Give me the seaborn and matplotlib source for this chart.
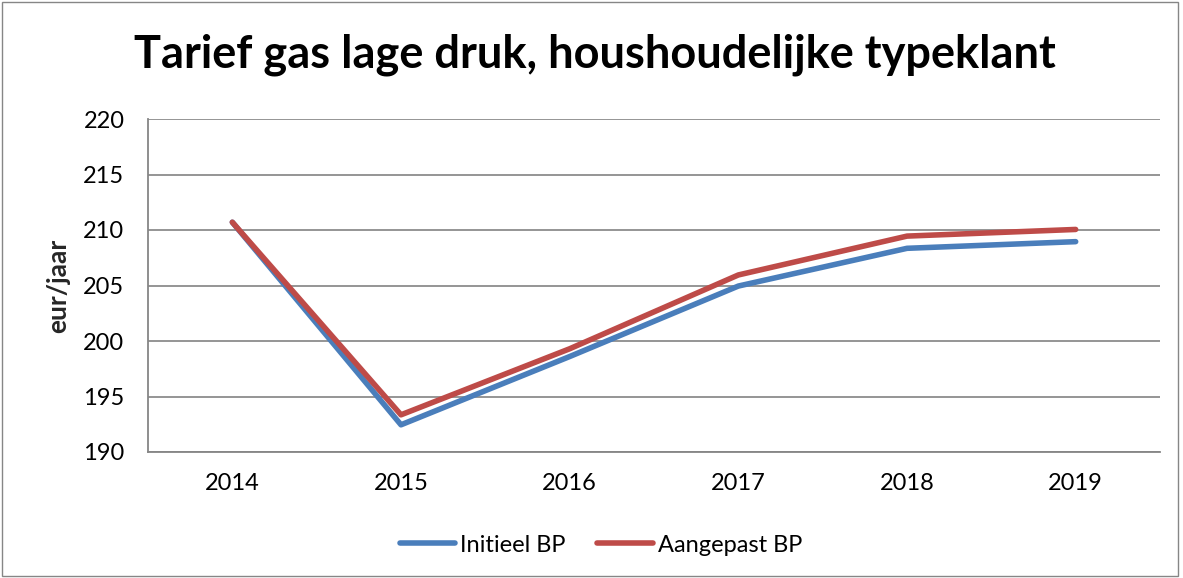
import numpy as np
import pandas as pd
import matplotlib.pyplot as plt
import seaborn as sns
from matplotlib.patches import Rectangle

years = ["2014", "2015", "2016", "2017", "2018", "2019"]
initieel_bp = [210.7, 192.45, 198.6, 204.95, 208.35, 208.95]
aangepast_bp = [210.7, 193.35, 199.3, 205.95, 209.45, 210.05]
series_names = ["Initieel BP", "Aangepast BP"]
y_ticks = [190, 195, 200, 205, 210, 215, 220]

df = pd.DataFrame({
    "jaar": years * 2,
    "waarde": initieel_bp + aangepast_bp,
    "reeks": [series_names[0]] * len(years) + [series_names[1]] * len(years),
})
df["pos"] = df["jaar"].map({y: i for i, y in enumerate(years)})

sns.set_style("white")
plt.rcParams['font.family'] = ['Lato', 'DejaVu Sans']
plt.rcParams['text.color'] = 'black'
plt.rcParams['xtick.labelcolor'] = 'black'
plt.rcParams['ytick.labelcolor'] = 'black'

fig = plt.figure(figsize=(11.83, 5.78), dpi=100)
ax = fig.add_axes([148 / 1183, 1 - 452 / 578, (1160 - 148) / 1183, (452 - 119) / 578])

palette = {series_names[0]: "#4A7EBB", series_names[1]: "#BE4B48"}
sns.lineplot(data=df, x="pos", y="waarde", hue="reeks", palette=palette,
             linewidth=4, ax=ax, legend=False, solid_capstyle="round")

ax.set_xlim(-0.5, len(years) - 0.5)
ax.set_ylim(190, 220)
ax.set_yticks(y_ticks)
ax.set_yticklabels([str(t) for t in y_ticks], fontsize=17)
ax.set_xticks(range(len(years)))
ax.set_xticklabels(years, fontsize=17)
ax.tick_params(axis="x", length=0, pad=15)
ax.set_xticks(np.arange(-0.5, len(years)), minor=True)
ax.tick_params(axis="x", which="minor", length=7, color="#868686", width=1.2)
ax.tick_params(axis="y", length=7, color="#868686", width=1.2, pad=10)
ax.yaxis.grid(True, color="#8c8c8c", linewidth=1.3)
ax.set_axisbelow(True)
for s in ["top", "right"]:
    ax.spines[s].set_visible(False)
for s in ["left", "bottom"]:
    ax.spines[s].set_color("#868686")
    ax.spines[s].set_linewidth(1.3)
ax.set_xlabel("")
ax.set_ylabel("eur/jaar", fontsize=19, fontweight="bold", va="center")
ax.yaxis.set_label_coords((58 - 148) / 1012, 0.5)

fig.text(595 / 1183, 1 - 55 / 578, "Tarief gas lage druk, houshoudelijke typeklant",
         ha="center", va="center", fontsize=32.5, fontweight="bold")

handles = [plt.Line2D([], [], color=palette[n], linewidth=4, solid_capstyle="round") for n in series_names]
fig.legend(handles, series_names, loc="center", bbox_to_anchor=(601 / 1183, 1 - 545 / 578),
           ncol=2, frameon=False, fontsize=17, handlelength=2.35, handletextpad=0.2,
           columnspacing=1.35)

fig.add_artist(Rectangle((0.002, 0.003), 0.994, 0.994, transform=fig.transFigure,
                         fill=False, edgecolor="#868686", linewidth=1))

fig.savefig("out.png", dpi=100)
